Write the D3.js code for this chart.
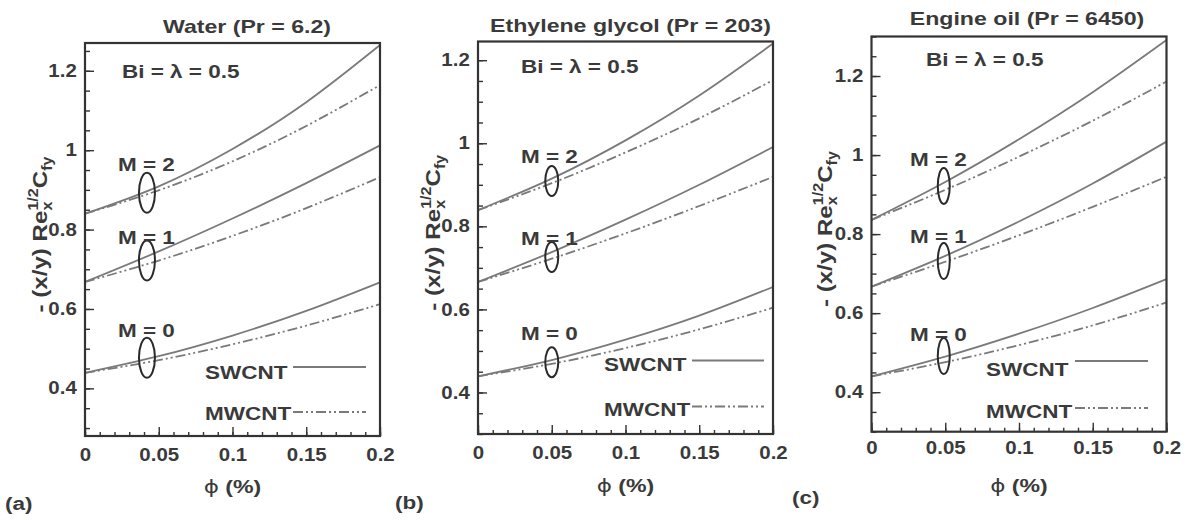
<!DOCTYPE html>
<html><head><meta charset="utf-8">
<script src="https://cdn.jsdelivr.net/npm/d3@7"></script>
<style>body{margin:0;background:#fff}svg{display:block}</style>
</head><body>
<svg id="c" width="1189" height="520"></svg>
<script>
// ---------- data ----------
const phi = [0, 0.05, 0.1, 0.15, 0.2];
const xTicks = [0, 0.05, 0.1, 0.15, 0.2];
const xTickLabels = ["0", "0.05", "0.1", "0.15", "0.2"];
const yTicks = [0.4, 0.6, 0.8, 1, 1.2];
const yTickLabels = ["0.4", "0.6", "0.8", "1", "1.2"];
const panelTitles = ["Water (Pr = 6.2)", "Ethylene glycol (Pr = 203)", "Engine oil (Pr = 6450)"];
const panelTags = ["(a)", "(b)", "(c)"];
const mLabels = ["M = 2", "M = 1", "M = 0"];
const seriesNames = ["SWCNT", "MWCNT"];
const paramLabel = "Bi = \u03bb = 0.5";
const yDomains = [[0.28, 1.27], [0.30, 1.245], [0.30, 1.30]];

// rows: M = 2, 1, 0
const waterSW = [[0.840, 0.909, 1.003, 1.121, 1.265], [0.668, 0.745, 0.828, 0.917, 1.012], [0.439, 0.481, 0.533, 0.595, 0.667]];
const waterMW = [[0.840, 0.899, 0.972, 1.061, 1.164], [0.668, 0.722, 0.784, 0.854, 0.932], [0.439, 0.471, 0.511, 0.558, 0.612]];
const glycolSW = [[0.839, 0.915, 1.007, 1.115, 1.240], [0.666, 0.738, 0.816, 0.900, 0.991], [0.439, 0.478, 0.527, 0.585, 0.654]];
const glycolMW = [[0.839, 0.904, 0.978, 1.060, 1.152], [0.666, 0.722, 0.783, 0.849, 0.919], [0.439, 0.469, 0.507, 0.552, 0.604]];
const oilSW = [[0.836, 0.932, 1.040, 1.159, 1.291], [0.667, 0.745, 0.832, 0.928, 1.034], [0.440, 0.490, 0.548, 0.613, 0.686]];
const oilMW = [[0.836, 0.912, 0.996, 1.087, 1.186], [0.667, 0.730, 0.797, 0.869, 0.945], [0.440, 0.476, 0.519, 0.569, 0.627]];

// ellipse markers (phi, value) per panel, rows M = 2, 1, 0
const ellipsePhi = [0.042, 0.05, 0.049];
const ellipseVals = [[0.893, 0.722, 0.477], [0.909, 0.726, 0.473], [0.922, 0.732, 0.4915]];

// ---------- layout ----------
const layout = [
  {box:{l:85,r:380,t:43,b:436}, titleX:247, titleY:33, biX:122, biY:78, mX:118, mY:[171,244,337],
   legX:205, legY:[379,420], legL:[293,366], legLY:[367,412], phiY:493, tagX:5, tagY:510, yTitleX:47, ellR:[8,20], tickPad:13},
  {box:{l:478,r:773,t:41.5,b:434}, titleX:630.5, titleY:32, biX:521, biY:73, mX:521, mY:[163,245,340],
   legX:604, legY:[371,416], legL:[692,764], legLY:[360.5,406.5], phiY:492, tagX:395, tagY:509, yTitleX:440, ellR:[6.5,15], tickPad:13},
  {box:{l:871.5,r:1166.5,t:36.5,b:431.7}, titleX:1027, titleY:25, biX:926, biY:66, mX:910, mY:[166,243,341],
   legX:986, legY:[376,418], legL:[1075,1148], legLY:[361,408], phiY:492, tagX:792, tagY:504, yTitleX:832, ellR:[6,18], tickPad:10}
];
const panelData = [[waterSW, waterMW], [glycolSW, glycolMW], [oilSW, oilMW]];

const FONT = "'Liberation Sans', Arial, Helvetica, sans-serif";
const TXT = "#3a3a3a";
const CURVE = "#7a7a7a";
const DASH = "10,3,2,3,2,3";
const SX = 1.25;

const svg = d3.select("#c");
svg.append("rect").attr("width",1189).attr("height",520).attr("fill","#fff");

function txt(g, x, y, s, size, anchor, sx) {
  return g.append("text")
    .attr("transform", `translate(${x},${y}) scale(${sx||SX},1)`)
    .attr("text-anchor", anchor || "start")
    .style("font-family", FONT).style("font-weight", "bold")
    .style("font-size", size + "px").attr("fill", TXT).text(s);
}

layout.forEach((L, pi) => {
  const g = svg.append("g");
  const x = d3.scaleLinear().domain([0, 0.2]).range([L.box.l, L.box.r]);
  const y = d3.scaleLinear().domain(yDomains[pi]).range([L.box.b, L.box.t]);

  // minor ticks
  const minorX = d3.range(0, 21).map(i => i / 100);
  const minorY = d3.range(0, 40).map(i => i * 0.05).filter(v => v >= yDomains[pi][0] && v <= yDomains[pi][1]);
  g.append("g").attr("transform", `translate(0,${L.box.b})`)
    .call(d3.axisBottom(x).tickValues(minorX).tickSize(-4).tickFormat("").tickSizeOuter(0))
    .call(a => a.select(".domain").remove());
  g.append("g").attr("transform", `translate(${L.box.l},0)`)
    .call(d3.axisLeft(y).tickValues(minorY).tickSize(-5).tickFormat("").tickSizeOuter(0))
    .call(a => a.select(".domain").remove());

  // major ticks
  const ax = g.append("g").attr("transform", `translate(0,${L.box.b})`)
    .call(d3.axisBottom(x).tickValues(xTicks).tickFormat((d, i) => xTickLabels[i]).tickSize(-9).tickPadding(L.tickPad).tickSizeOuter(0));
  ax.select(".domain").remove();
  const ay = g.append("g").attr("transform", `translate(${L.box.l},0)`)
    .call(d3.axisLeft(y).tickValues(yTicks).tickFormat((d, i) => yTickLabels[i]).tickSize(-9).tickPadding(7).tickSizeOuter(0));
  ay.select(".domain").remove();
  [ax, ay].forEach(a => {
    a.selectAll("text").style("font-family", FONT).style("font-weight", "bold")
      .style("font-size", "17.5px").attr("fill", TXT).attr("transform", "scale(1.17,1)");
  });
  g.selectAll(".tick line").attr("stroke", "#333").attr("stroke-width", 1.4);

  // curves
  const line = d3.line().x(d => x(d[0])).y(d => y(d[1])).curve(d3.curveNatural);
  const [sw, mw] = panelData[pi];
  sw.forEach(vals => {
    g.append("path").attr("d", line(vals.map((v, i) => [phi[i], v])))
      .attr("fill", "none").attr("stroke", CURVE).attr("stroke-width", 1.8);
  });
  mw.forEach(vals => {
    g.append("path").attr("d", line(vals.map((v, i) => [phi[i], v])))
      .attr("fill", "none").attr("stroke", CURVE).attr("stroke-width", 1.8).attr("stroke-dasharray", DASH);
  });

  // ellipses
  ellipseVals[pi].forEach(v => {
    g.append("ellipse").attr("cx", x(ellipsePhi[pi])).attr("cy", y(v))
      .attr("rx", L.ellR[0]).attr("ry", L.ellR[1])
      .attr("fill", "none").attr("stroke", "#2a2a2a").attr("stroke-width", 2);
  });

  // frame
  g.append("rect").attr("x", L.box.l).attr("y", L.box.t)
    .attr("width", L.box.r - L.box.l).attr("height", L.box.b - L.box.t)
    .attr("fill", "none").attr("stroke", "#333").attr("stroke-width", 2.2);

  // texts
  txt(g, L.titleX, L.titleY, panelTitles[pi], 18.5, "middle");
  txt(g, L.biX, L.biY, paramLabel, 18, "start");
  mLabels.forEach((m, i) => txt(g, L.mX, L.mY[i], m, 18, "start"));
  seriesNames.forEach((s, i) => txt(g, L.legX, L.legY[i], s, 18, "start"));
  g.append("line").attr("x1", L.legL[0]).attr("x2", L.legL[1]).attr("y1", L.legLY[0]).attr("y2", L.legLY[0])
    .attr("stroke", CURVE).attr("stroke-width", 1.8);
  g.append("line").attr("x1", L.legL[0]).attr("x2", L.legL[1]).attr("y1", L.legLY[1]).attr("y2", L.legLY[1])
    .attr("stroke", CURVE).attr("stroke-width", 1.8).attr("stroke-dasharray", DASH);
  const pt = txt(g, (L.box.l + L.box.r) / 2, L.phiY, "", 18.5, "middle");
  pt.append("tspan").style("font-family", "'DejaVu Sans', sans-serif").style("font-weight", "normal").text("\u03d5");
  pt.append("tspan").text(" (%)");
  txt(g, L.tagX, L.tagY, panelTags[pi], 18, "start");

  // y-axis title (rotated)
  const yc = (L.box.t + L.box.b) / 2 - 5;
  const t = g.append("text")
    .attr("transform", `translate(${L.yTitleX},${yc}) rotate(-90) scale(1.15,1)`)
    .attr("text-anchor", "middle")
    .style("font-family", FONT).style("font-weight", "bold").style("font-size", "21px").attr("fill", TXT);
  t.append("tspan").text("- (x/y) Re");
  t.append("tspan").attr("dy", 5).style("font-size", "14px").text("x");
  t.append("tspan").attr("dx", -7.8).attr("dy", -14).style("font-size", "14px").text("1/2");
  t.append("tspan").attr("dy", 9).text("C");
  t.append("tspan").attr("dy", 5).style("font-size", "14px").text("fy");
});
</script>
</body></html>
